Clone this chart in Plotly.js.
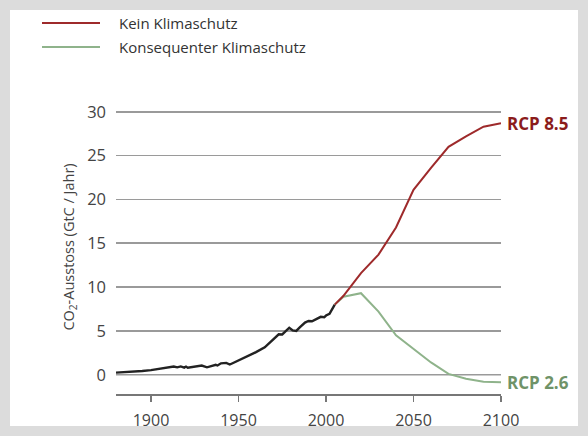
<!DOCTYPE html>
<html>
<head>
<meta charset="utf-8">
<script src="https://cdn.plot.ly/plotly-3.0.1.min.js"></script>
<style>
  html, body { margin: 0; padding: 0; background: #ffffff; width: 588px; height: 436px; overflow: hidden; }
  #chart { position: absolute; left: 0; top: 0; width: 588px; height: 436px; }
  #frame { position: absolute; left: 0; top: 0; width: 588px; height: 436px; box-sizing: border-box; border: 10px solid #dcdcdc; pointer-events: none; }
</style>
</head>
<body>
<div id="chart"></div>
<div id="frame"></div>
<script>
// Historical emissions (GtC / year)
const histYears = [1880,1885,1890,1895,1900,1905,1910,1913,1915,1917,1919,1920,1921,1925,1929,1932,1937,1938,1940,1943,1945,1946,1950,1955,1960,1965,1970,1973,1975,1979,1981,1983,1985,1988,1990,1992,1995,1997,1999,2000,2002,2004,2005];
const histValues = [0.24,0.29,0.36,0.42,0.53,0.66,0.82,0.94,0.84,0.95,0.81,0.93,0.80,0.92,1.05,0.84,1.13,1.05,1.30,1.35,1.16,1.25,1.63,2.04,2.58,3.13,4.05,4.61,4.59,5.36,5.05,5.00,5.40,5.95,6.13,6.10,6.40,6.60,6.55,6.75,6.95,7.60,8.00];

// Scenario years
const scenYears = [2005,2010,2020,2030,2040,2050,2060,2070,2080,2090,2100];
const rcp85Values = [8.0,9.0,11.6,13.7,16.8,21.1,23.6,26.0,27.2,28.3,28.7];
const rcp26Values = [8.0,8.9,9.3,7.2,4.5,3.0,1.4,0.1,-0.45,-0.8,-0.85];

const legendNames = ["Kein Klimaschutz", "Konsequenter Klimaschutz"];
const endLabels = ["RCP 8.5", "RCP 2.6"];
const xTicks = [1900,1950,2000,2050,2100];
const yTicks = [0,5,10,15,20,25,30];
const edgeGrid = [0, 30];
const yTitle = "CO<sub>2</sub>-Ausstoss (GtC / Jahr)";

const redColor = "#9e2a2b";
const greenColor = "#8fb38b";
const gridColor = "#9a9a9a";
const font = "'Open Sans', 'Noto Sans', sans-serif";

const plotW = 385, plotH = 284;

const traces = [
  { x: histYears, y: histValues, type: "scatter", mode: "lines", line: { color: "#222222", width: 2.4 }, showlegend: false, hoverinfo: "skip" },
  { x: scenYears, y: rcp26Values, type: "scatter", mode: "lines", name: legendNames[1], line: { color: greenColor, width: 2 }, showlegend: false },
  { x: scenYears, y: rcp85Values, type: "scatter", mode: "lines", name: legendNames[0], line: { color: redColor, width: 2 }, showlegend: false }
];

const shapes = [
  { type: "line", xref: "paper", yref: "paper", x0: -74/plotW, x1: -16/plotW, y0: 1 + 87/plotH, y1: 1 + 87/plotH, line: { color: redColor, width: 2 } },
  { type: "line", xref: "paper", yref: "paper", x0: -74/plotW, x1: -16/plotW, y0: 1 + 63/plotH, y1: 1 + 63/plotH, line: { color: greenColor, width: 2 } }
];
edgeGrid.forEach(v => shapes.push({ type: "line", layer: "below", xref: "paper", yref: "y", x0: 0, x1: 1, y0: v, y1: v, line: { color: gridColor, width: 1.5 } }));

const layout = {
  width: 588, height: 436,
  margin: { l: 116, r: 87, t: 110, b: 42 },
  paper_bgcolor: "#ffffff", plot_bgcolor: "#ffffff",
  font: { family: font, size: 16, color: "#444444" },
  showlegend: false,
  xaxis: {
    range: [1880, 2100], tickvals: xTicks, ticktext: xTicks.map(String),
    showgrid: false, zeroline: false, showline: true, linecolor: "#777777", linewidth: 1.5,
    ticks: "outside", ticklen: 6, tickcolor: "#777777", tickwidth: 1.5, ticklabelstandoff: 5,
    tickfont: { size: 16, color: "#444444" }
  },
  yaxis: {
    range: [-2.2, 30.2], tickvals: yTicks, ticktext: yTicks.map(String),
    showgrid: true, gridcolor: gridColor, gridwidth: 1.5,
    zeroline: false, showline: false,
    ticks: "", ticklabelstandoff: 9,
    tickfont: { size: 16.5, color: "#444444" }
  },
  shapes: shapes,
  annotations: [
    { xref: "paper", yref: "paper", x: 1/plotW, y: 1 + 87/plotH, xanchor: "left", yanchor: "middle", text: legendNames[0], showarrow: false, font: { size: 15, color: "#333333" } },
    { xref: "paper", yref: "paper", x: 1/plotW, y: 1 + 63/plotH, xanchor: "left", yanchor: "middle", text: legendNames[1], showarrow: false, font: { size: 15, color: "#333333" } },
    { xref: "paper", yref: "y", x: -46/plotW, y: 14.5, xanchor: "center", yanchor: "middle", textangle: -90, text: yTitle, showarrow: false, font: { size: 14.5, color: "#444444" } },
    { x: scenYears[scenYears.length-1], y: rcp85Values[rcp85Values.length-1], xanchor: "left", yanchor: "middle", xshift: 4, text: "<b>" + endLabels[0] + "</b>", showarrow: false, font: { size: 17, color: "#8b1c1c" } },
    { x: scenYears[scenYears.length-1], y: rcp26Values[rcp26Values.length-1], xanchor: "left", yanchor: "middle", xshift: 4, text: "<b>" + endLabels[1] + "</b>", showarrow: false, font: { size: 17, color: "#6f9368" } }
  ]
};

Plotly.newPlot("chart", traces, layout, { displayModeBar: false, staticPlot: true });
</script>
</body>
</html>
